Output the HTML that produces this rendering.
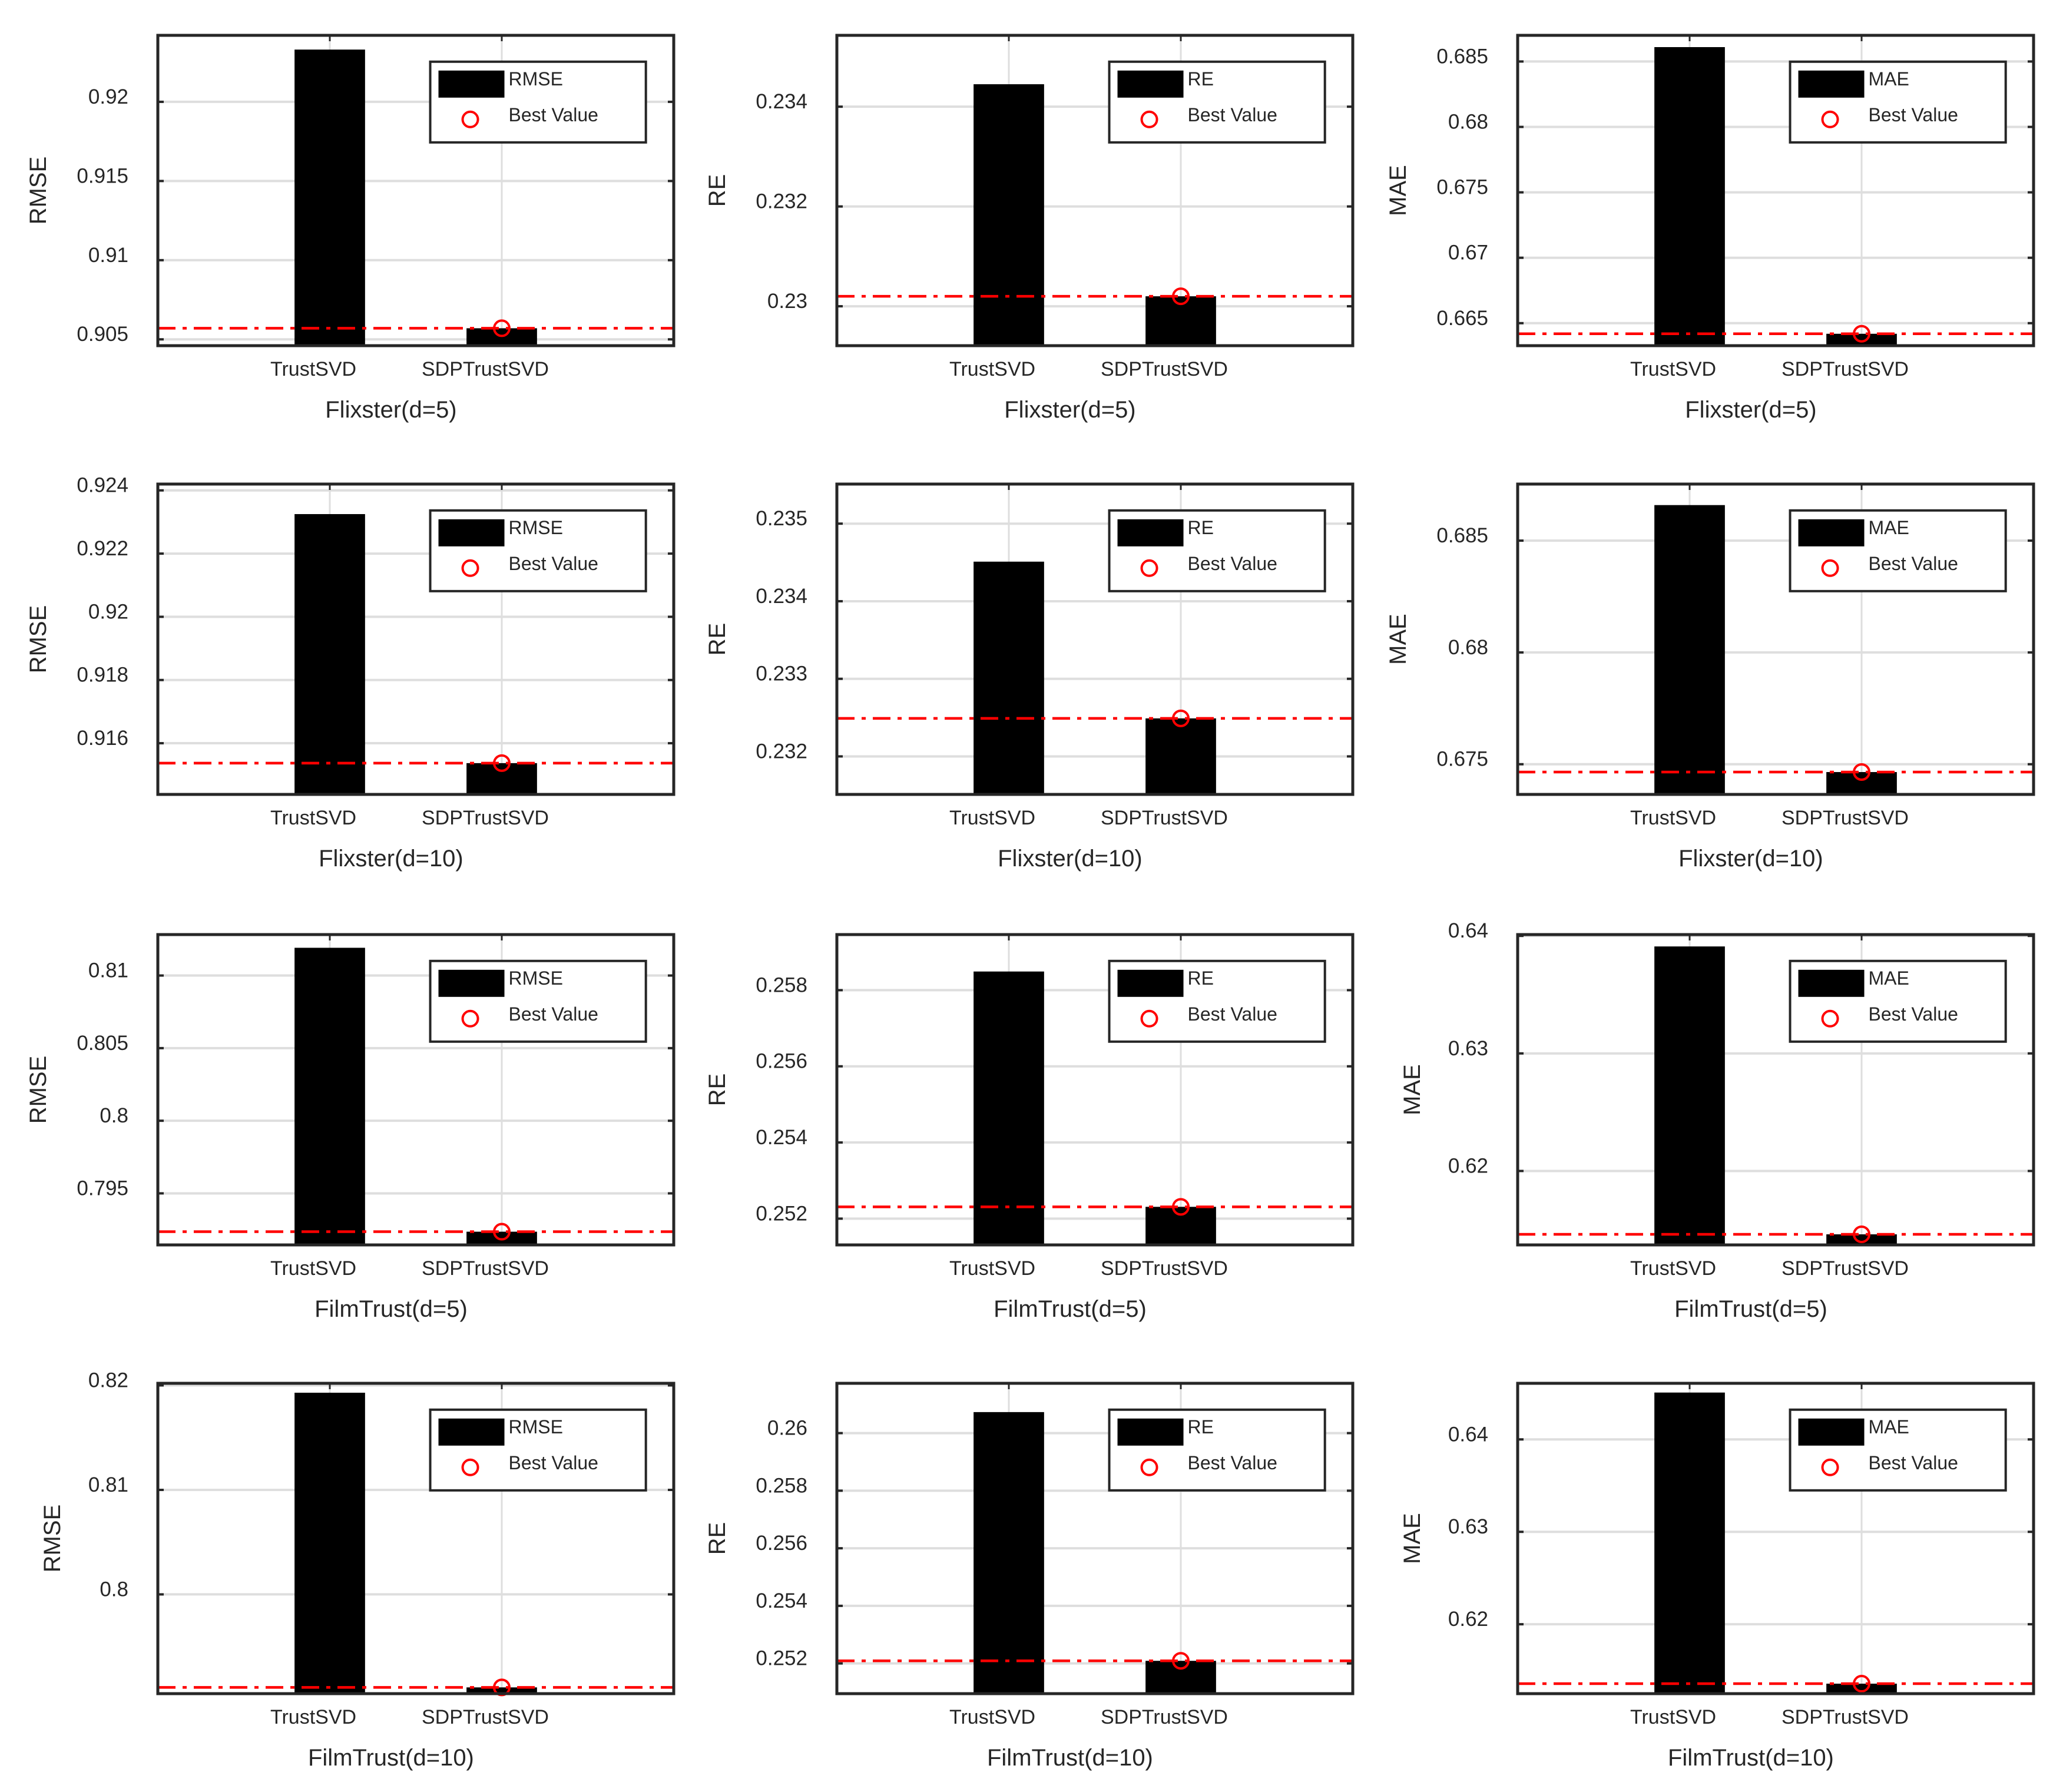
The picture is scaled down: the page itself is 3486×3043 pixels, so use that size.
<!DOCTYPE html>
<html><head><meta charset="utf-8"><style>
html,body{margin:0;padding:0;background:#fff}
svg{display:block}
text{font-family:"Liberation Sans",sans-serif;fill:#262626}
</style></head><body>
<svg id="fig" width="3486" height="3043" viewBox="0 0 3486 3043" xmlns="http://www.w3.org/2000/svg"></svg>
<script>
const categories = ["TrustSVD", "SDPTrustSVD"];
const metrics = ["RMSE","RE","MAE","RMSE","RE","MAE","RMSE","RE","MAE","RMSE","RE","MAE"];
const titles = ["Flixster(d=5)","Flixster(d=5)","Flixster(d=5)","Flixster(d=10)","Flixster(d=10)","Flixster(d=10)","FilmTrust(d=5)","FilmTrust(d=5)","FilmTrust(d=5)","FilmTrust(d=10)","FilmTrust(d=10)","FilmTrust(d=10)"];
const trustValues = [0.9233,0.23445,0.6861,0.92325,0.23451,0.68659,0.81191,0.25849,0.63910,0.8193,0.26073,0.64507];
const sdpValues = [0.9057,0.2302,0.66419,0.91537,0.23249,0.67465,0.79236,0.25231,0.61461,0.7911,0.25209,0.61357];
const yMins = [0.9046,0.22921,0.66328,0.91438,0.23151,0.67365,0.79145,0.25131,0.61371,0.7905,0.25095,0.61249];
const yMaxs = [0.9242,0.23543,0.6870,0.9242,0.23551,0.68753,0.81282,0.25946,0.64011,0.8202,0.26173,0.64607];
const yTicks = [
 ["0.905","0.91","0.915","0.92"],["0.23","0.232","0.234"],["0.665","0.67","0.675","0.68","0.685"],
 ["0.916","0.918","0.92","0.922","0.924"],["0.232","0.233","0.234","0.235"],["0.675","0.68","0.685"],
 ["0.795","0.8","0.805","0.81"],["0.252","0.254","0.256","0.258"],["0.62","0.63","0.64"],
 ["0.8","0.81","0.82"],["0.252","0.254","0.256","0.258","0.26"],["0.62","0.63","0.64"]];

const NS="http://www.w3.org/2000/svg";
const svg=document.getElementById('fig');
function mk(tag,attrs,parent){const e=document.createElementNS(NS,tag);for(const k in attrs)e.setAttribute(k,attrs[k]);(parent||svg).appendChild(e);return e;}
const colX=[268,1421,2577], rowY=[60,822,1587,2349], W=876, H=527;

for(let i=0;i<12;i++){
  const L=colX[i%3], T=rowY[Math.floor(i/3)], R=L+W, B=T+H;
  const g=mk('g',{});
  
  
  const yS=v=>B-(v-yMins[i])/(yMaxs[i]-yMins[i])*H;
  const xS=v=>L+v/3*W;
  yTicks[i].forEach(t=>{const y=yS(parseFloat(t));
    const gl=mk('line',{x1:L,x2:R,y1:y,y2:y,stroke:'#dedede','stroke-width':4},g);
    });
  categories.forEach((c,k)=>{const x=xS(k+1);
    const gl=mk('line',{x1:x,x2:x,y1:T,y2:B,stroke:'#dedede','stroke-width':3},g);
    });
  [trustValues[i],sdpValues[i]].forEach((v,k)=>{
    const bw=0.41/3*W, x=xS(k+1)-bw/2, y=yS(v);
    const b=mk('rect',{x:x,y:y,width:bw,height:B-y,fill:'#000'},g);
    
    
  });
  const by=yS(sdpValues[i]);
  const bl=mk('line',{x1:L,x2:R,y1:by,y2:by,stroke:'#ff0000','stroke-width':4.5,'stroke-dasharray':'30 12 7 12'},g);
  
  const bc=mk('circle',{cx:xS(2),cy:by,r:13,fill:'none',stroke:'#ff0000','stroke-width':4},g);
  
  yTicks[i].forEach(t=>{const y=yS(parseFloat(t));
    mk('line',{x1:L,x2:L+10,y1:y,y2:y,stroke:'#262626','stroke-width':4},g);
    mk('line',{x1:R-10,x2:R,y1:y,y2:y,stroke:'#262626','stroke-width':4},g);
    const tl=mk('text',{x:L-50,y:y+3,'font-size':35,'text-anchor':'end'},g);
    tl.textContent=t;});
  categories.forEach((c,k)=>{const x=xS(k+1);
    mk('line',{x1:x,x2:x,y1:T,y2:T+10,stroke:'#262626','stroke-width':3},g);
    const tl=mk('text',{x:x-28,y:B+51,'font-size':34,'text-anchor':'middle'},g);
    tl.textContent=c;});
  const bx=mk('rect',{x:L,y:T,width:W,height:H,fill:'none',stroke:'#262626','stroke-width':5},g);
  
  const maxLen=Math.max(...yTicks[i].map(t=>t.length));
  const ylx=L-(maxLen>=5?190:166), ylcy=(T+B)/2;
  const yl=mk('text',{x:ylx,y:ylcy,'font-size':40,'text-anchor':'middle',transform:`rotate(-90 ${ylx} ${ylcy})`},g);
  yl.textContent=metrics[i];
  const xt=mk('text',{x:L+W*0.452,y:B+122,'font-size':40,'text-anchor':'middle'},g);
  xt.textContent=titles[i];
  const lg=mk('g',{},g);
  
  const lx=L+0.528*W, ly=T+0.085*H, lw=0.418*W, lh=0.26*H;
  mk('rect',{x:lx,y:ly,width:lw,height:lh,fill:'#fff',stroke:'#262626','stroke-width':4},lg);
  mk('rect',{x:lx+14,y:ly+15,width:112,height:46,fill:'#000'},lg);
  const t1=mk('text',{x:lx+133,y:ly+40,'font-size':32},lg);t1.textContent=metrics[i];
  
  mk('circle',{cx:lx+68,cy:ly+98,r:13,fill:'none',stroke:'#ff0000','stroke-width':4},lg);
  const t2=mk('text',{x:lx+133,y:ly+101,'font-size':32},lg);t2.textContent='Best Value';
  
}
</script>
</body></html>
